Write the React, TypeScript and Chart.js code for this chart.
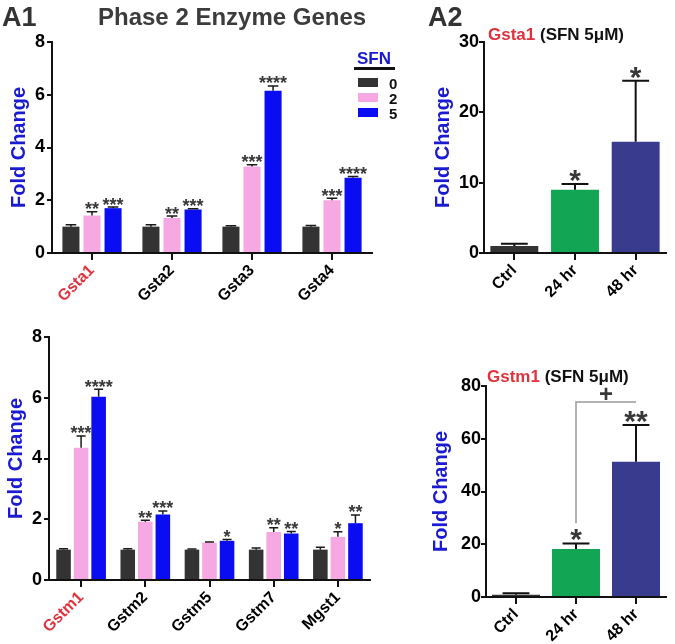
import React, { useEffect, useRef } from 'react';
import { Chart, registerables } from 'chart.js';

Chart.register(...registerables);

const FONT = "'Liberation Sans', Arial, Helvetica, sans-serif";
const COLOR_SFN0 = '#333333';
const COLOR_SFN2 = '#f5a8e2';
const COLOR_SFN5 = '#0a0cf2';
const COLOR_CTRL = '#333333';
const COLOR_24 = '#12a553';
const COLOR_48 = '#383b8e';
const RED = '#e0323c';
const AXIS_BLUE = '#1a1ad2';
const STAR_COLOR = '#383838';

// ---------- A1 (top): Gsta genes ----------
const gstaGenes = ['Gsta1', 'Gsta2', 'Gsta3', 'Gsta4'];
const gstaSfn0 = [1.0, 1.0, 1.0, 1.0];
const gstaSfn0Err = [0.07, 0.07, 0.03, 0.04];
const gstaSfn2 = [1.42, 1.33, 3.28, 2.0];
const gstaSfn2Err = [0.14, 0.07, 0.07, 0.08];
const gstaSfn5 = [1.7, 1.65, 6.15, 2.85];
const gstaSfn5Err = [0.04, 0.03, 0.18, 0.05];
const gstaSfn2Stars = ['**', '**', '***', '***'];
const gstaSfn5Stars = ['***', '***', '****', '****'];

// ---------- A1 (bottom): Gstm genes ----------
const gstmGenes = ['Gstm1', 'Gstm2', 'Gstm5', 'Gstm7', 'Mgst1'];
const gstmSfn0 = [1.0, 1.0, 1.0, 1.0, 1.0];
const gstmSfn0Err = [0.03, 0.03, 0.02, 0.05, 0.08];
const gstmSfn2 = [4.35, 1.92, 1.23, 1.58, 1.42];
const gstmSfn2Err = [0.39, 0.05, 0.02, 0.14, 0.17];
const gstmSfn5 = [6.03, 2.16, 1.29, 1.53, 1.87];
const gstmSfn5Err = [0.25, 0.11, 0.04, 0.07, 0.27];
const gstmSfn2Stars = ['***', '**', '', '**', '*'];
const gstmSfn5Stars = ['****', '***', '*', '**', '**'];

const a1YTicks = [0, 2, 4, 6, 8];
const sfnDoses = ['0', '2', '5'];

// ---------- A2: time course (SFN 5 uM) ----------
const timeLabels = ['Ctrl', '24 hr', '48 hr'];
const gsta1Time = [1.0, 9.0, 15.8];
const gsta1TimeErr = [0.3, 0.8, 8.7];
const gsta1TimeStars = ['', '*', '*'];
const gsta1YTicks = [0, 10, 20, 30];

const gstm1Time = [0.9, 18.2, 51.3];
const gstm1TimeErr = [0.5, 2.1, 13.9];
const gstm1TimeStars = ['', '*', '**'];
const gstm1YTicks = [0, 20, 40, 60, 80];
// comparison bracket 24 hr vs 48 hr
const gstm1BracketFrom = 1;
const gstm1BracketTo = 2;
const gstm1BracketLevel = 73.9;
const gstm1BracketLeg = 28;
const gstm1BracketMark = '+';

const extrasPlugin: any = {
  id: 'extras',
  afterDatasetsDraw(chart: any, _args: any, opts: any) {
    const { ctx } = chart;
    const yScale = chart.scales.y;
    ctx.save();
    chart.data.datasets.forEach((ds: any, di: number) => {
      const meta = chart.getDatasetMeta(di);
      const errs = (opts.errors && opts.errors[di]) || [];
      const stars = (opts.stars && opts.stars[di]) || [];
      meta.data.forEach((bar: any, i: number) => {
        const v = ds.data[i];
        const e = errs[i] || 0;
        const x = bar.x;
        const w = bar.width;
        const yTop = yScale.getPixelForValue(v);
        const yErr = yScale.getPixelForValue(v + e);
        ctx.strokeStyle = opts.errColor;
        ctx.lineWidth = opts.errWidth;
        ctx.beginPath();
        ctx.moveTo(x, yTop);
        ctx.lineTo(x, yErr);
        ctx.moveTo(x - (w * opts.capRatio) / 2, yErr);
        ctx.lineTo(x + (w * opts.capRatio) / 2, yErr);
        ctx.stroke();
        const s = stars[i];
        if (s) {
          ctx.fillStyle = STAR_COLOR;
          ctx.font = `bold ${opts.starSize}px ${FONT}`;
          ctx.textAlign = 'center';
          ctx.textBaseline = 'alphabetic';
          ctx.fillText(s, x, yErr - opts.starGap + opts.starSize * 0.33);
        }
      });
    });
    const b = opts.bracket;
    if (b) {
      const meta = chart.getDatasetMeta(0);
      const x1 = meta.data[b.from].x;
      const x2 = meta.data[b.to].x;
      const yl = yScale.getPixelForValue(b.level);
      const yb = yScale.getPixelForValue(b.leg);
      ctx.strokeStyle = '#9a9a9a';
      ctx.lineWidth = 1.5;
      ctx.beginPath();
      ctx.moveTo(x1, yb);
      ctx.lineTo(x1, yl);
      ctx.lineTo(x2, yl);
      ctx.stroke();
      ctx.fillStyle = STAR_COLOR;
      ctx.font = `bold 24px ${FONT}`;
      ctx.textAlign = 'center';
      ctx.textBaseline = 'alphabetic';
      ctx.fillText(b.mark, (x1 + x2) / 2, yl);
    }
    ctx.restore();
  },
};

function makeConfig(p: any) {
  const yTicks: number[] = p.yTicks;
  return {
    type: 'bar',
    data: {
      labels: p.labels,
      datasets: p.datasets,
    },
    options: {
      responsive: false,
      animation: false,
      devicePixelRatio: 1,
      layout: { padding: p.padding },
      plugins: {
        legend: { display: false },
        tooltip: { enabled: false },
        title: { display: false },
        extras: p.extras,
      },
      datasets: {
        bar: {
          categoryPercentage: p.catPct,
          barPercentage: p.barPct,
          borderWidth: 0,
        },
      },
      scales: {
        x: {
          type: 'category',
          offset: true,
          grid: {
            offset: false,
            drawOnChartArea: false,
            drawTicks: true,
            tickLength: 7,
            color: '#111',
            lineWidth: 2,
          },
          border: { display: true, color: '#111', width: 2 },
          ticks: {
            autoSkip: false,
            minRotation: 45,
            maxRotation: 45,
            padding: 1,
            color: (c: any) => (p.redFirst && c.index === 0 ? RED : '#000'),
            font: { family: FONT, size: 16, weight: 'bold' },
          },
          afterFit: (s: any) => {
            s.height = p.xHeight;
          },
        },
        y: {
          min: yTicks[0],
          max: yTicks[yTicks.length - 1],
          grid: {
            drawOnChartArea: false,
            drawTicks: true,
            tickLength: 5,
            color: '#111',
            lineWidth: 2,
          },
          border: { display: true, color: '#111', width: 2 },
          ticks: {
            stepSize: yTicks[1] - yTicks[0],
            padding: p.yTickPad,
            color: '#000',
            font: { family: FONT, size: 18, weight: 'bold' },
          },
          title: {
            display: true,
            text: 'Fold Change',
            color: AXIS_BLUE,
            font: { family: FONT, size: 20, weight: 'bold' },
            padding: { top: p.titlePad, bottom: 0 },
          },
          afterFit: (s: any) => {
            s.width = p.yWidth;
          },
        },
      },
    },
    plugins: [extrasPlugin],
  };
}

function ChartBox(props: { left: number; top: number; width: number; height: number; config: any }) {
  const ref = useRef<HTMLCanvasElement>(null);
  useEffect(() => {
    if (!ref.current) return;
    const chart = new Chart(ref.current, props.config);
    return () => chart.destroy();
  }, []);
  return (
    <canvas
      ref={ref}
      width={props.width}
      height={props.height}
      style={{
        position: 'absolute',
        left: props.left,
        top: props.top,
        width: props.width,
        height: props.height,
      }}
    />
  );
}

const a1Extras = (errs: number[][], stars: string[][]) => ({
  errors: errs,
  stars: stars,
  errColor: '#1a1a1a',
  errWidth: 1.5,
  capRatio: 0.62,
  starSize: 18,
  starGap: 2.5,
});

const a2Extras = (errs: number[], stars: string[], bracket?: any) => ({
  errors: [errs],
  stars: [stars],
  errColor: '#111',
  errWidth: 2,
  capRatio: 0.56,
  starSize: 30,
  starGap: 4,
  bracket,
});

const gstaConfig = makeConfig({
  labels: gstaGenes,
  datasets: [
    { label: sfnDoses[0], data: gstaSfn0, backgroundColor: COLOR_SFN0 },
    { label: sfnDoses[1], data: gstaSfn2, backgroundColor: COLOR_SFN2 },
    { label: sfnDoses[2], data: gstaSfn5, backgroundColor: COLOR_SFN5 },
  ],
  yTicks: a1YTicks,
  padding: { left: 0, top: 42, right: 48, bottom: 0 },
  xHeight: 47,
  yWidth: 52,
  yTickPad: 2,
  titlePad: 7,
  catPct: 0.79,
  barPct: 0.81,
  redFirst: true,
  extras: a1Extras([gstaSfn0Err, gstaSfn2Err, gstaSfn5Err], [[], gstaSfn2Stars, gstaSfn5Stars]),
});

const gstmConfig = makeConfig({
  labels: gstmGenes,
  datasets: [
    { label: sfnDoses[0], data: gstmSfn0, backgroundColor: COLOR_SFN0 },
    { label: sfnDoses[1], data: gstmSfn2, backgroundColor: COLOR_SFN2 },
    { label: sfnDoses[2], data: gstmSfn5, backgroundColor: COLOR_SFN5 },
  ],
  yTicks: a1YTicks,
  padding: { left: 0, top: 37, right: 50, bottom: 0 },
  xHeight: 64,
  yWidth: 49,
  yTickPad: 2,
  titlePad: 4,
  catPct: 0.82,
  barPct: 0.83,
  redFirst: true,
  extras: a1Extras([gstmSfn0Err, gstmSfn2Err, gstmSfn5Err], [[], gstmSfn2Stars, gstmSfn5Stars]),
});

const gsta1TimeConfig = makeConfig({
  labels: timeLabels,
  datasets: [
    { label: 'Gsta1', data: gsta1Time, backgroundColor: [COLOR_CTRL, COLOR_24, COLOR_48] },
  ],
  yTicks: gsta1YTicks,
  padding: { left: 0, top: 42, right: 9, bottom: 0 },
  xHeight: 47,
  yWidth: 64,
  yTickPad: 0,
  titlePad: 11,
  catPct: 1,
  barPct: 0.79,
  redFirst: false,
  extras: a2Extras(gsta1TimeErr, gsta1TimeStars),
});

const gstm1TimeConfig = makeConfig({
  labels: timeLabels,
  datasets: [
    { label: 'Gstm1', data: gstm1Time, backgroundColor: [COLOR_CTRL, COLOR_24, COLOR_48] },
  ],
  yTicks: gstm1YTicks,
  padding: { left: 0, top: 86, right: 9, bottom: 0 },
  xHeight: 47,
  yWidth: 66,
  yTickPad: 0,
  titlePad: 9,
  catPct: 1,
  barPct: 0.8,
  redFirst: false,
  extras: a2Extras(gstm1TimeErr, gstm1TimeStars, {
    from: gstm1BracketFrom,
    to: gstm1BracketTo,
    level: gstm1BracketLevel,
    leg: gstm1BracketLeg,
    mark: gstm1BracketMark,
  }),
});

const textBase: React.CSSProperties = {
  position: 'absolute',
  fontFamily: FONT,
  fontWeight: 'bold',
  whiteSpace: 'nowrap',
  lineHeight: 1,
  margin: 0,
};

const legendColors = [COLOR_SFN0, COLOR_SFN2, COLOR_SFN5];

export default function App() {
  return (
    <div
      style={{
        position: 'absolute',
        left: 0,
        top: 0,
        width: 675,
        height: 644,
        background: '#fff',
        overflow: 'hidden',
      }}
    >
      <ChartBox left={0} top={0} width={420} height={300} config={gstaConfig} />
      <ChartBox left={0} top={300} width={420} height={344} config={gstmConfig} />
      <ChartBox left={420} top={0} width={255} height={300} config={gsta1TimeConfig} />
      <ChartBox left={420} top={300} width={255} height={344} config={gstm1TimeConfig} />

      <div style={{ ...textBase, left: 2, top: 4, fontSize: 27, color: '#333' }}>A1</div>
      <div style={{ ...textBase, left: 98, top: 5, fontSize: 24, color: '#3c3c3c' }}>
        Phase 2 Enzyme Genes
      </div>
      <div style={{ ...textBase, left: 428, top: 4, fontSize: 27, color: '#333' }}>A2</div>

      <div style={{ ...textBase, left: 488, top: 26, fontSize: 17, color: '#111' }}>
        <span style={{ color: RED }}>Gsta1</span> (SFN 5μM)
      </div>
      <div style={{ ...textBase, left: 487, top: 368, fontSize: 17, color: '#111' }}>
        <span style={{ color: RED }}>Gstm1</span> (SFN 5μM)
      </div>

      {/* Legend */}
      <div style={{ ...textBase, left: 357, top: 50, fontSize: 17, color: AXIS_BLUE }}>SFN</div>
      <div
        style={{ position: 'absolute', left: 354, top: 67, width: 41, height: 2.5, background: '#111' }}
      />
      {sfnDoses.map((d, i) => (
        <React.Fragment key={d}>
          <div
            style={{
              position: 'absolute',
              left: 358,
              top: 78 + i * 15,
              width: 20,
              height: 9,
              background: legendColors[i],
            }}
          />
          <div style={{ ...textBase, left: 389, top: 76 + i * 15, fontSize: 15, color: '#111' }}>{d}</div>
        </React.Fragment>
      ))}
    </div>
  );
}
